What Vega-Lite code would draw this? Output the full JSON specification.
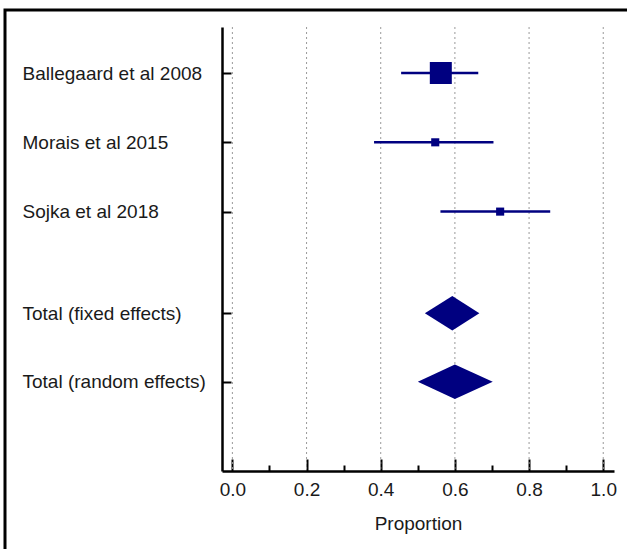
{
  "$schema": "https://vega.github.io/schema/vega-lite/v6.json",
  "autosize": {"type": "none"},
  "padding": {"left": 5, "top": 10, "right": -1.5, "bottom": -1.5},
  "width": 623.5,
  "height": 540.5,
  "background": "white",
  "config": {
    "view": {"stroke": "#000000", "strokeWidth": 3, "fill": "white"},
    "font": "Liberation Sans"
  },
  "datasets": {
    "forest": [
      {"study": "Ballegaard et al 2008", "kind": "study", "row": 1, "est": 0.562, "lo": 0.455, "hi": 0.663, "weight": 57.6},
      {"study": "Morais et al 2015", "kind": "study", "row": 2, "est": 0.547, "lo": 0.382, "hi": 0.704, "weight": 21.2},
      {"study": "Sojka et al 2018", "kind": "study", "row": 3, "est": 0.722, "lo": 0.561, "hi": 0.857, "weight": 21.2},
      {"study": "Total (fixed effects)", "kind": "total", "row": 4.467, "est": 0.593, "lo": 0.519, "hi": 0.666},
      {"study": "Total (random effects)", "kind": "total", "row": 5.455, "est": 0.600, "lo": 0.500, "hi": 0.702}
    ],
    "grid": [{"g": 0}, {"g": 0.2}, {"g": 0.4}, {"g": 0.6}, {"g": 0.8}, {"g": 1.0}]
  },
  "layer": [
    {
      "data": {"name": "grid"},
      "mark": {"type": "rule", "color": "#9a9a9a", "strokeWidth": 1, "strokeDash": [2, 3]},
      "encoding": {
        "x": {
          "field": "g", "type": "quantitative", "title": "Proportion",
          "scale": {"domain": [-0.028, 1.029], "range": [217, 609], "nice": false, "zero": false},
          "axis": {
            "values": [0, 0.1, 0.2, 0.3, 0.4, 0.5, 0.6, 0.7, 0.8, 0.9, 1.0],
            "offset": -79.5,
            "grid": false,
            "domainColor": "#000000", "domainWidth": 2.5,
            "tickColor": "#000000", "tickWidth": 2,
            "tickSize": {"condition": {"test": "round(datum.value*10) % 2 == 0", "value": -12}, "value": -6},
            "labelExpr": "round(datum.value*10) % 2 == 0 ? format(datum.value, '.1f') : ''",
            "labelFont": "Liberation Sans", "labelFontSize": 19, "labelColor": "#1a1a1a",
            "labelPadding": 21.3, "labelFlush": false, "labelOverlap": false,
            "titleFont": "Liberation Sans", "titleFontSize": 19, "titleFontWeight": "normal",
            "titleColor": "#1a1a1a", "titlePadding": 9
          }
        },
        "y": {
          "datum": 0.336, "type": "quantitative", "title": null,
          "scale": {"domain": [0.336, 6.743], "range": [17, 461], "nice": false, "zero": false},
          "axis": {
            "values": [1, 2, 3, 4.467, 5.455],
            "offset": -217,
            "grid": false,
            "domainColor": "#000000", "domainWidth": 2.5,
            "tickColor": "#000000", "tickWidth": 2, "tickSize": -9,
            "labelAlign": "left", "labelBaseline": "middle", "labelPadding": 209,
            "labelLimit": 0,
            "labelExpr": "datum.value == 1 ? 'Ballegaard et al 2008' : datum.value == 2 ? 'Morais et al 2015' : datum.value == 3 ? 'Sojka et al 2018' : datum.value < 5 ? 'Total (fixed effects)' : 'Total (random effects)'",
            "labelFont": "Liberation Sans", "labelFontSize": 19, "labelColor": "#1a1a1a",
            "labelFlush": false, "labelOverlap": false,
            "title": null
          }
        },
        "y2": {"datum": 6.743}
      }
    },
    {
      "data": {"name": "forest"},
      "transform": [{"filter": "datum.kind == 'study'"}],
      "mark": {"type": "rule", "color": "#000080", "strokeWidth": 2.5},
      "encoding": {
        "x": {"field": "lo", "type": "quantitative", "title": "Proportion"},
        "x2": {"field": "hi"},
        "y": {"field": "row", "type": "quantitative", "title": null}
      }
    },
    {
      "data": {"name": "forest"},
      "transform": [{"filter": "datum.kind == 'study'"}],
      "mark": {"type": "square", "color": "#000080", "opacity": 1, "filled": true},
      "encoding": {
        "x": {"field": "est", "type": "quantitative", "title": "Proportion"},
        "y": {"field": "row", "type": "quantitative", "title": null},
        "size": {"field": "weight", "type": "quantitative", "legend": null,
          "scale": {"type": "pow", "exponent": 2, "domain": [0, 57.6], "range": [0, 484]}}
      }
    },
    {
      "data": {"name": "forest"},
      "transform": [
        {"filter": "datum.kind == 'total'"},
        {"fold": ["lo", "est", "hi"], "as": ["key", "xv"]}
      ],
      "mark": {
        "type": "area", "color": "#000080", "opacity": 1, "orient": "vertical",
        "yOffset": {"expr": "datum.key == 'est' ? -17.25 : 0"},
        "y2Offset": {"expr": "datum.key == 'est' ? 17.25 : 0"}
      },
      "encoding": {
        "x": {"field": "xv", "type": "quantitative", "title": "Proportion"},
        "y": {"field": "row", "type": "quantitative", "title": null, "stack": null},
        "y2": {"field": "row"},
        "detail": {"field": "study"}
      }
    }
  ]
}
